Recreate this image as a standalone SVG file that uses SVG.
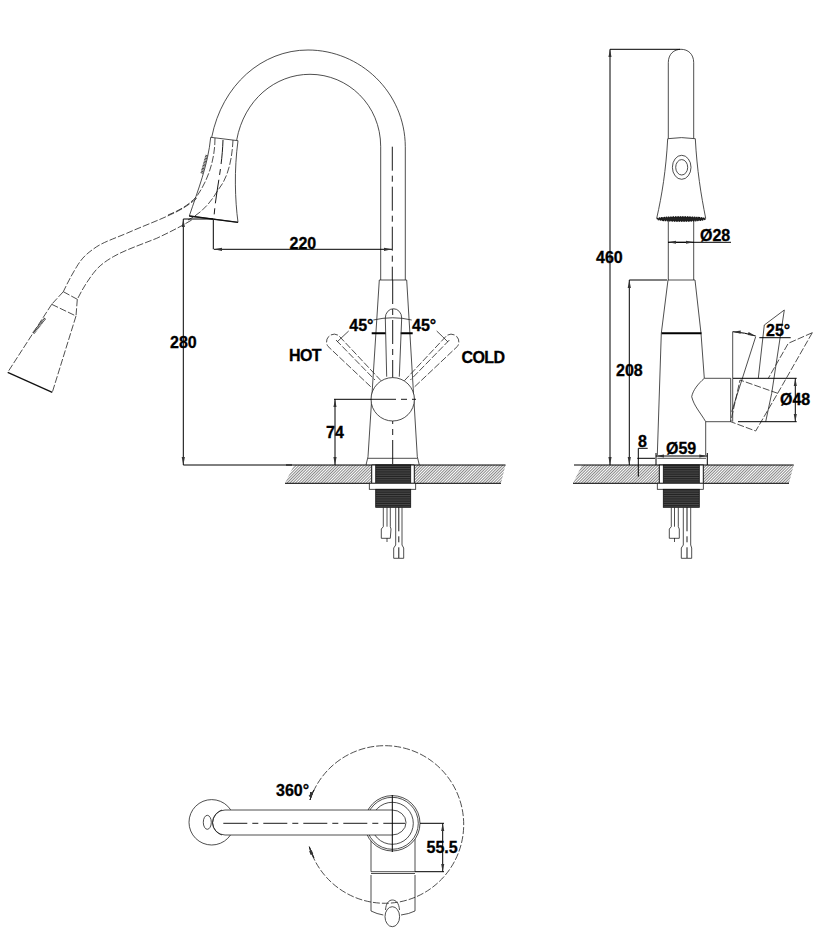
<svg xmlns="http://www.w3.org/2000/svg" width="819" height="933" viewBox="0 0 819 933">
<style>
.o{fill:none;stroke:#222;stroke-width:.8}
.w{fill:#fff;stroke:#222;stroke-width:.8}
.d{fill:none;stroke:#222;stroke-width:.8;stroke-dasharray:7 2}
.c{fill:none;stroke:#000;stroke-width:.9;stroke-dasharray:24 5 6 5}
.k{fill:none;stroke:#000;stroke-width:2}
.m{fill:none;stroke:#000;stroke-width:1;marker-start:url(#a);marker-end:url(#a)}
.l{fill:none;stroke:#000;stroke-width:1}
.h{fill:url(#hatch);stroke:none}
.t{fill:url(#thread);stroke:#111;stroke-width:.8}
text{font-family:"Liberation Sans",Arial,sans-serif;font-size:16px;font-weight:bold;fill:#000;stroke:#000;stroke-width:.3}
.n{letter-spacing:-.6px}
</style>
<defs>
<marker id="a" viewBox="0 0 10 6" refX="10" refY="3" markerWidth="8" markerHeight="4.800" orient="auto-start-reverse" markerUnits="userSpaceOnUse"><path d="M0 1L10 3L0 5Z" fill="#333"/></marker>
<pattern id="hatch" width="2" height="2" patternUnits="userSpaceOnUse" patternTransform="rotate(45)"><rect width="2" height="2" fill="#fff"/><rect width=".7" height="2" fill="#555"/></pattern>
<pattern id="thread" width="4" height="1.800" patternUnits="userSpaceOnUse"><rect width="4" height="1.800" fill="#222"/><rect width="4" height=".5" fill="#666"/></pattern>
</defs>

<g id="deck-front">
<path class="h" d="M294 465H505.500L501 483.300H285Z"/>
<path class="l" d="M286 465H505.500M285 483.300H501"/>
<path d="M371.700 465H414.300V483.300H371.700Z" fill="#fff" stroke="#111"/>
<rect class="t" x="375.700" y="465" width="35" height="18.300"/>
<rect class="w" x="369.300" y="483.300" width="46.400" height="6"/>
<rect class="t" x="375.700" y="489.300" width="35" height="18"/>
<path class="o" d="M383.300 507.300V526.700L381.300 529V538.300H390.300L391 529L390.300 526.700V507.300M387 507.300V526.700M395.700 507.300V545L393.700 548V558.300H403.700V548L402 545V507.300M387 538V542"/>
<path class="c" d="M398.800 507.300V558"/>
</g>

<g id="faucet-front">
<path class="o" d="M211.700 137.300C222 85 262 50 308 50C360 50 405 92 405.300 146.700V280M236.700 140C244 100 275 74.300 310 74.300C348 74.300 380.700 105 380.700 146.700V280"/>
<path class="o" d="M379.300 280H406.700L417.300 456.700L419.300 465M379.300 280L368 456.700L366 465M368 458.300H417.300"/>
<path class="c" d="M392.300 146.700V280"/>
<path class="c" d="M392.700 280V465"/>
<path class="k" d="M371.700 333.300H385.700M400.700 333.300H412.700"/>
<path class="o" d="M386.700 376.700L385.300 318A7.700 8.700 0 0 1 401.700 318L399.300 376.700"/>
<path class="d" d="M370.700 386.700L328 346.400A7.700 7.700 0 0 1 338.700 335.600L381 380.700M414.700 386.700L457.400 346.400A7.700 7.700 0 0 0 446.700 335.600L404.400 380.700"/>
<path class="d" d="M336 340L375 380M449.400 340L410.400 380"/>
<circle class="w" cx="392.700" cy="399.300" r="21.700"/>
</g>

<g id="spray-head-front">
<path class="o" d="M210.700 137.300L238 140.700C234 170 235 200 238 222.300L189.300 216C198 190 208 165 210.700 137.300Z"/>
<path d="M189.300 216L238 222.300" fill="none" stroke="#111" stroke-width="1.300"/>
<path class="d" d="M215 138C215 160 208 180 197 196C188 206 178 211 168 215"/>
<path class="d" d="M233 140C232 160 228 178 218 190C210 204 200 214 188 220"/>
<path class="c" d="M223 140C222 170 216 190 214 216.700"/>
<path d="M201.700 173.300L206.700 155" stroke="#444" stroke-width="2.500" stroke-dasharray="1 .5" fill="none"/>
</g>

<g id="hose-pulled">
<path class="d" d="M196.700 198.300C190 204 184 208 176.700 211.700C160 220 143 226 126.700 233.300C113 239 104 242 96.700 246.700C86 254 82 258 76.700 266.700C71 276 67 284 63.300 291.700"/>
<path class="d" d="M191.700 220C180 227 170 232 156.700 238.300C140 245 125 250 113.300 256.700C104 262 98 267 93.300 273.300C86 283 82 290 77.300 299.300"/>
<path class="d" d="M63.300 291.700L77.300 299.300M63.300 291.700L51.700 304.300M77.300 299.300L76 316"/>
<path class="d" d="M51.700 304.300L76 316L52.300 392.300M51.700 304.300L7.700 372.300"/>
<path d="M7.700 372.300L52.300 392.300" fill="none" stroke="#111" stroke-width="1.300"/>
<path d="M33.300 333.300L45 318.300" stroke="#444" stroke-width="2.500" stroke-dasharray="1 .5" fill="none"/>
</g>

<g id="deck-side">
<path class="h" d="M582 465H793.700L789 483.300H573Z"/>
<path class="l" d="M574 465H793.700M573 483.300H789"/>
<rect x="659.300" y="465" width="44" height="18.300" fill="#fff" stroke="#111"/>
<rect class="t" x="663.300" y="465" width="36" height="18.300"/>
<rect class="w" x="657.300" y="483.300" width="46" height="6"/>
<rect class="t" x="663.300" y="489.300" width="36" height="18"/>
<path class="o" d="M671.300 507.300V526.700L669.300 529V538.300H679.300V529L678.300 526.700V507.300M674.500 507.300V526.700M683.300 507.300V545L681.300 548V558.300H691.700V548L690.700 545V507.300M674.500 538V542"/>
<path class="c" d="M687 507.300V558"/>
</g>

<g id="faucet-side">
<path class="o" d="M668.300 138.300V62.700C668.300 54 674 49.300 681 49.300C688 49.300 693.700 54 693.700 62.700V138.300M668.300 220V280M693.700 220V280"/>
<path class="o" d="M667.700 138.700Q681.500 136.500 695.300 138.700C697 170 701 195 705.700 218.300H656.700C662 195 666 170 667.700 138.700Z"/>
<ellipse class="o" cx="681.700" cy="167.300" rx="9.300" ry="12"/>
<ellipse class="o" cx="681.700" cy="167.300" rx="6" ry="7.700"/>
<ellipse cx="681.200" cy="219" rx="24" ry="2.200" fill="#222" stroke="#111" stroke-width="1.200" stroke-dasharray="1.500 .8"/>
<path class="o" d="M668 280H695L701 333.300L704.300 378.300M668 280L661.300 333.300L657.300 455M705.700 421.700V455M657.300 458.300H706"/>
<path class="k" d="M661.500 333.300H701.500"/>
<path class="o" d="M704.300 378.300H730.700V421.700H705.700C700 412 694 406 691.700 396.700C693 390 698 384 704.300 378.300Z"/>
<path class="o" d="M732.700 378.300V421.700"/>
</g>

<g id="lever-side">
<path class="o" d="M731.700 411.700L755.700 336.700M758.300 378.300L764.300 325L784.300 310L771.700 393.300L765.700 421.700"/>
<path class="d" d="M812.300 332.700L788.300 343.300L768.300 378.300M812.300 332.700L777.700 393.300L755.700 431L730.700 421.700L740 380L777.700 393.300"/>
<path class="l" d="M732.700 378.300H796.700M738 421.700H796.700"/>
</g>

<g id="top-view">
<circle class="o" cx="211.700" cy="822.300" r="22.700"/>
<path class="d" d="M310 800A78.800 78.800 0 1 1 309.300 846.700"/>
<path class="o" d="M371 836.700V871.700H415V835M371 873.500H415M371 875V911Q377 914 383.300 915M415 875V911Q409 914 401 915"/>
<circle class="w" cx="392.300" cy="823.300" r="27.700"/>
<circle class="o" cx="392.300" cy="823.300" r="26"/>
<circle class="o" cx="392.300" cy="823.300" r="21"/>
<path class="w" d="M225 810H392A14 12.500 0 0 1 392 835H225A12.500 12.500 0 0 1 225 810Z"/>
<path class="o" d="M212.500 823A13 15 0 0 1 222 810M212.500 823A13 15 0 0 0 222 835"/>
<ellipse class="w" cx="207.300" cy="822.300" rx="4" ry="7"/>
<path class="o" d="M385.500 910C386 903 389 900 392.300 900C396 900 399 903 399.500 910"/>
<ellipse class="w" cx="392.300" cy="916.700" rx="7.300" ry="10"/>
<path class="c" d="M223.300 823.300H405" stroke-dasharray="52 8 8 8 44 7 10 8"/>
<path class="l" d="M392.300 795V852"/>
</g>

<g id="connectors">
<path class="m" d="M214 249.300H392"/>
<path class="l" d="M213.300 220V249.300"/>
<path class="l" d="M183.300 219H213"/>
<path class="l" d="M183.300 465H292"/>
<path class="m" d="M183.300 219V465"/>
<path class="o" d="M373.300 320Q392.700 315.500 411.700 320M436.700 331Q442 336 448 342M348.700 331Q343.300 336 337 342"/>
<path class="m" d="M335 399.300V465"/>
<path class="l" d="M334 399.300H372"/>
<path class="c" d="M372 399.300H416"/>
<path class="l" d="M610 49.300H680"/>
<path class="m" d="M610 49.300V465"/>
<path class="l" d="M668 242.300H731"/>
<path class="m" d="M668.300 242.300H693.700"/>
<path class="l" d="M629.300 280H667"/>
<path class="m" d="M629.300 280V465"/>
<path class="m" d="M656 456H707.300"/>
<path class="l" d="M656 453V465M707.300 453V465"/>
<path class="l" d="M637.300 458.300H655M638.300 448.300H647.700M638.300 448.300V476.700"/>
<path class="m" d="M795.300 378.300V421.700"/>
<path class="o" d="M732.700 331.700V378"/>
<path class="m" d="M732.700 331.700Q745 332.500 755.700 336"/>
<path class="l" d="M759.300 337.700H790.700"/>
<path class="l" d="M420 823.300H444M415 871.700H444"/>
<path class="m" d="M442.700 823.300V871.700"/>
<path class="m" d="M314 790Q311 795 310 800"/>
<path class="m" d="M309.300 846.700Q311 852 314 858"/>
</g>

<g id="labels">
<text x="289.500" y="249">220</text>
<text x="170" y="348">280</text>
<text x="349.300" y="330.500">45°</text>
<text x="412" y="330.500">45°</text>
<text class="n" x="289" y="360.500">HOT</text>
<text class="n" x="461.500" y="363">COLD</text>
<text x="326" y="438">74</text>
<text x="700" y="241">Ø28</text>
<text x="596" y="263">460</text>
<text x="616" y="376">208</text>
<text x="638" y="446.500">8</text>
<text x="666" y="454">Ø59</text>
<text x="780" y="405">Ø48</text>
<text x="766" y="336">25°</text>
<text x="426.500" y="853.300">55.5</text>
<text x="276" y="796.300">360°</text>
</g>
</svg>
